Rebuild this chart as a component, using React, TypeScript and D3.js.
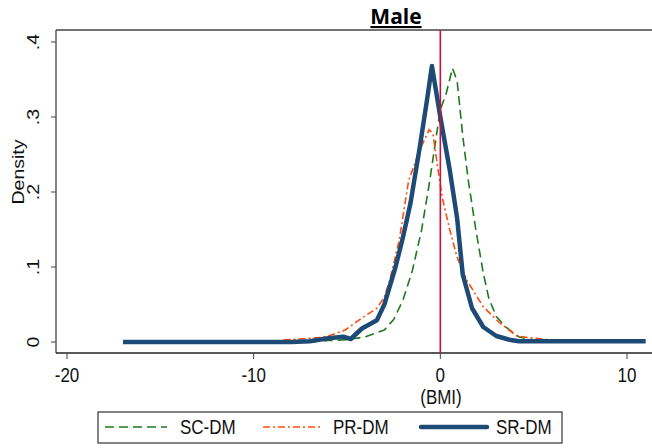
import React from "react";
import * as d3 from "d3";

const scX = [-7, -6, -5, -4, -3, -2.5, -2, -1.5, -1, -0.6, -0.3, 0, 0.3, 0.65, 0.9, 1.2, 1.5, 1.9, 2.3, 2.6, 3, 3.5, 4.2, 5, 5.5];
const scY = [0, 0.002, 0.003, 0.007, 0.016, 0.03, 0.056, 0.095, 0.15, 0.21, 0.26, 0.31, 0.33, 0.365, 0.348, 0.275, 0.215, 0.15, 0.092, 0.058, 0.034, 0.02, 0.007, 0.002, 0];

const prX = [-8.4, -7.5, -6.5, -6, -5.1, -4.2, -3.4, -3, -2.7, -2.2, -1.7, -1.1, -0.6, -0.4, -0.2, 0.1, 0.5, 0.9, 1.4, 2.3, 3.2, 4.1, 5, 5.9];
const prY = [0.003, 0.004, 0.006, 0.008, 0.016, 0.032, 0.045, 0.06, 0.083, 0.136, 0.215, 0.256, 0.283, 0.278, 0.243, 0.193, 0.15, 0.113, 0.083, 0.047, 0.025, 0.008, 0.005, 0.003];

const srX = [-17, -8, -7, -6, -5.2, -4.8, -4.2, -3.4, -3, -2.4, -2, -1.6, -1.1, -0.7, -0.45, 0, 0.5, 0.9, 1.2, 1.7, 2.3, 3, 3.7, 4.2, 11];
const srY = [0, 0, 0.001, 0.005, 0.007, 0.004, 0.018, 0.029, 0.05, 0.1, 0.14, 0.185, 0.26, 0.325, 0.368, 0.3, 0.23, 0.165, 0.09, 0.045, 0.02, 0.008, 0.003, 0.001, 0.001];

const xTicks = [-20, -10, 0, 10];
const yTicks = [0, 0.1, 0.2, 0.3, 0.4];
const yTickLabels = ["0", ".1", ".2", ".3", ".4"];
const legendLabels = ["SC-DM", "PR-DM", "SR-DM"];

const SANS = "'Liberation Sans', Arial, sans-serif";
const S = 1.15;

export default function App() {
  const x = d3.scaleLinear().domain([-20, 10]).range([67, 627]);
  const y = d3.scaleLinear().domain([0, 0.4]).range([342, 42]);
  const line = d3.line<[number, number]>().x(d => x(d[0])).y(d => y(d[1])).curve(d3.curveLinear);
  const zip = (a: number[], b: number[]) => a.map((v, i) => [v, b[i]] as [number, number]);

  const left = 56, right = 652, top = 30, bottom = 353;
  const green = "#1f7a1f", orange = "#ff4d0d", blue = "#1e4b75", red = "#c8103c";

  const legendItems = [
    { label: legendLabels[0], x1: 105, x2: 167, tx: 180, color: green, w: 1.6, dash: "9 5" },
    { label: legendLabels[1], x1: 263, x2: 322, tx: 333, color: orange, w: 1.6, dash: "7 3 2 3" },
    { label: legendLabels[2], x1: 421, x2: 487, tx: 496, color: blue, w: 4.5, dash: undefined },
  ];

  return (
    <svg width={652} height={448} style={{ position: "absolute", left: 0, top: 0, background: "#fff" }}>
      {/* title */}
      <text x={396} y={24} textAnchor="middle" fontFamily="'Open Sans', sans-serif" fontWeight="bold" fontSize={21} textDecoration="underline" fill="#000">Male</text>

      {/* frame */}
      <line x1={left} x2={right} y1={top} y2={top} stroke="#444" strokeWidth={1.3} />
      <line x1={left} x2={left} y1={top} y2={bottom} stroke="#444" strokeWidth={1.3} />
      <line x1={left} x2={right} y1={bottom} y2={bottom} stroke="#222" strokeWidth={1.3} />

      {/* y ticks */}
      {yTicks.map((t, i) => (
        <g key={"y" + i}>
          <line x1={left - 5} x2={left} y1={y(t)} y2={y(t)} stroke="#444" strokeWidth={1} />
          <text transform={`translate(39,${y(t)}) scale(1,${S}) rotate(-90)`} textAnchor="middle" fontFamily={SANS} fontSize={17} fill="#111">{yTickLabels[i]}</text>
        </g>
      ))}
      <text transform={`translate(24,172) scale(1,${S}) rotate(-90)`} textAnchor="middle" fontFamily={SANS} fontSize={17} fill="#111">Density</text>

      {/* x ticks */}
      {xTicks.map((t, i) => (
        <g key={"x" + i}>
          <line x1={x(t)} x2={x(t)} y1={bottom} y2={bottom + 6} stroke="#444" strokeWidth={1} />
          <text transform={`translate(${x(t)},382) scale(1,${S})`} textAnchor="middle" fontFamily={SANS} fontSize={17} fill="#111">{String(t)}</text>
        </g>
      ))}
      <text transform={`translate(441,404) scale(1,${S})`} textAnchor="middle" fontFamily={SANS} fontSize={17} fill="#111">(BMI)</text>

      {/* curves */}
      <path d={line(zip(scX, scY)) || ""} fill="none" stroke={green} strokeWidth={1.6} strokeDasharray="9 5" />
      <path d={line(zip(prX, prY)) || ""} fill="none" stroke={orange} strokeWidth={1.6} strokeDasharray="7 3 2 3" />
      <path d={line(zip(srX, srY)) || ""} fill="none" stroke={blue} strokeWidth={4.5} strokeLinejoin="round" />

      {/* reference line */}
      <line x1={x(0)} x2={x(0)} y1={top} y2={bottom} stroke={red} strokeWidth={1.6} />

      {/* legend */}
      <rect x={98} y={412} width={464} height={31} fill="#fff" stroke="#333" strokeWidth={1.2} />
      {legendItems.map((it, i) => (
        <g key={"l" + i}>
          <line x1={it.x1} x2={it.x2} y1={427} y2={427} stroke={it.color} strokeWidth={it.w} strokeDasharray={it.dash} strokeLinecap={it.dash ? "butt" : "round"} />
          <text transform={`translate(${it.tx},434) scale(1,${S})`} fontFamily={SANS} fontSize={17} fill="#111">{it.label}</text>
        </g>
      ))}
    </svg>
  );
}
